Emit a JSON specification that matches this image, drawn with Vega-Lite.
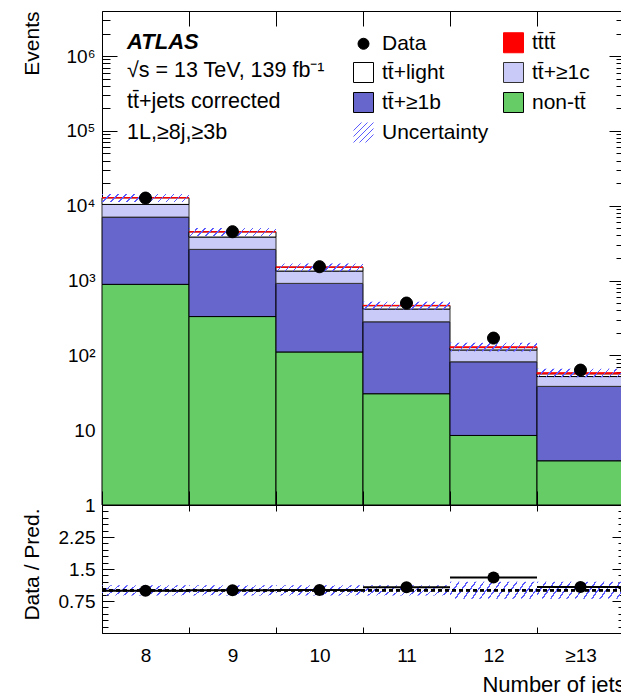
{
  "$schema": "https://vega.github.io/schema/vega-lite/v6.json",
  "autosize": {"type": "pad"},
  "padding": {"left": 20, "top": 10, "right": 0, "bottom": 0},
  "background": "white",
  "config": {
    "font": "Liberation Sans",
    "view": {"stroke": "black", "strokeWidth": 1},
    "axis": {"domain": false, "grid": false, "labelFont": "Liberation Sans", "labelFontSize": 19, "labelColor": "black", "tickColor": "black", "tickWidth": 1, "titleFont": "Liberation Sans", "titleFontSize": 21, "titleFontWeight": "normal", "titleColor": "black", "labelOverlap": false, "labelBound": false, "labelFlush": false}
  },
  "datasets": {
    "hist": [
      {"jets": "8", "proc": "non-tt\u0304", "rank": 1, "events": 889},
      {"jets": "8", "proc": "tt\u0304+≥1b", "rank": 2, "events": 6151},
      {"jets": "8", "proc": "tt\u0304+≥1c", "rank": 3, "events": 3360},
      {"jets": "8", "proc": "tt\u0304+light", "rank": 4, "events": 2355},
      {"jets": "8", "proc": "tt\u0304tt\u0304", "rank": 5, "events": 5},
      {"jets": "9", "proc": "non-tt\u0304", "rank": 1, "events": 330},
      {"jets": "9", "proc": "tt\u0304+≥1b", "rank": 2, "events": 2278},
      {"jets": "9", "proc": "tt\u0304+≥1c", "rank": 3, "events": 1202},
      {"jets": "9", "proc": "tt\u0304+light", "rank": 4, "events": 664},
      {"jets": "9", "proc": "tt\u0304tt\u0304", "rank": 5, "events": 6},
      {"jets": "10", "proc": "non-tt\u0304", "rank": 1, "events": 111},
      {"jets": "10", "proc": "tt\u0304+≥1b", "rank": 2, "events": 805},
      {"jets": "10", "proc": "tt\u0304+≥1c", "rank": 3, "events": 421},
      {"jets": "10", "proc": "tt\u0304+light", "rank": 4, "events": 170},
      {"jets": "10", "proc": "tt\u0304tt\u0304", "rank": 5, "events": 6},
      {"jets": "11", "proc": "non-tt\u0304", "rank": 1, "events": 30.7},
      {"jets": "11", "proc": "tt\u0304+≥1b", "rank": 2, "events": 250},
      {"jets": "11", "proc": "tt\u0304+≥1c", "rank": 3, "events": 135},
      {"jets": "11", "proc": "tt\u0304+light", "rank": 4, "events": 45},
      {"jets": "11", "proc": "tt\u0304tt\u0304", "rank": 5, "events": 5},
      {"jets": "12", "proc": "non-tt\u0304", "rank": 1, "events": 8.5},
      {"jets": "12", "proc": "tt\u0304+≥1b", "rank": 2, "events": 73.5},
      {"jets": "12", "proc": "tt\u0304+≥1c", "rank": 3, "events": 36},
      {"jets": "12", "proc": "tt\u0304+light", "rank": 4, "events": 9},
      {"jets": "12", "proc": "tt\u0304tt\u0304", "rank": 5, "events": 3},
      {"jets": "≥13", "proc": "non-tt\u0304", "rank": 1, "events": 3.9},
      {"jets": "≥13", "proc": "tt\u0304+≥1b", "rank": 2, "events": 34.6},
      {"jets": "≥13", "proc": "tt\u0304+≥1c", "rank": 3, "events": 13.6},
      {"jets": "≥13", "proc": "tt\u0304+light", "rank": 4, "events": 4.5},
      {"jets": "≥13", "proc": "tt\u0304tt\u0304", "rank": 5, "events": 2}
    ],
    "band": [
      {"jets": "8", "lo": 11230, "hi": 14290},
      {"jets": "9", "lo": 3940, "hi": 5020},
      {"jets": "10", "lo": 1330, "hi": 1695},
      {"jets": "11", "lo": 410, "hi": 522},
      {"jets": "12", "lo": 113, "hi": 147},
      {"jets": "≥13", "lo": 51, "hi": 66}
    ],
    "data": [
      {"jets": "8", "proc": "Data", "events": 12650},
      {"jets": "9", "proc": "Data", "events": 4490},
      {"jets": "10", "proc": "Data", "events": 1530},
      {"jets": "11", "proc": "Data", "events": 500},
      {"jets": "12", "proc": "Data", "events": 170},
      {"jets": "≥13", "proc": "Data", "events": 63.5}
    ],
    "rband": [
      {"jets": "8", "lo": 0.88, "hi": 1.12},
      {"jets": "9", "lo": 0.88, "hi": 1.12},
      {"jets": "10", "lo": 0.88, "hi": 1.12},
      {"jets": "11", "lo": 0.88, "hi": 1.12},
      {"jets": "12", "lo": 0.8, "hi": 1.2},
      {"jets": "≥13", "lo": 0.8, "hi": 1.2}
    ],
    "ratio": [
      {"jets": "8", "ratio": 0.99},
      {"jets": "9", "ratio": 1.0},
      {"jets": "10", "ratio": 1.01},
      {"jets": "11", "ratio": 1.07},
      {"jets": "12", "ratio": 1.3},
      {"jets": "≥13", "ratio": 1.08}
    ]
  },
  "spacing": 0,
  "bounds": "flush",
  "vconcat": [
    {
      "width": 522,
      "height": 494,
      "title": {
        "text": "ATLAS",
        "subtitle": ["√s = 13 TeV, 139 fb⁻¹", "tt\u0304+jets corrected", "1L,≥8j,≥3b"],
        "anchor": "start", "frame": "group", "orient": "top", "offset": 0,
        "font": "Liberation Sans", "fontSize": 22, "fontWeight": "bold", "fontStyle": "italic", "color": "black",
        "subtitleFont": "Liberation Sans", "subtitleFontSize": 21.5, "subtitleColor": "black", "subtitleLineHeight": 31, "subtitlePadding": 6,
        "dx": 25, "dy": 134
      },
      "resolve": {"axis": {"x": "independent", "y": "independent"}},
      "layer": [
        {
          "data": {"name": "hist"},
          "transform": [{"stack": "events", "groupby": ["jets"], "sort": [{"field": "rank", "order": "ascending"}], "as": ["y0", "y1"]}],
          "mark": {"type": "rect", "strokeWidth": 1, "opacity": 1},
          "encoding": {
            "x": {"field": "jets", "type": "nominal", "scale": {"type": "band", "domain": ["8", "9", "10", "11", "12", "≥13"], "paddingInner": 0, "paddingOuter": 0},
              "axis": {"orient": "bottom", "labels": false, "tickBand": "extent", "tickSize": -14, "title": null}},
            "y": {"field": "y1", "type": "quantitative", "scale": {"type": "log", "domain": [1, 4000000], "nice": false, "clamp": true},
              "axis": {"orient": "left",
                "values": [1,2,3,4,5,6,7,8,9,10,20,30,40,50,60,70,80,90,100,200,300,400,500,600,700,800,900,1000,2000,3000,4000,5000,6000,7000,8000,9000,10000,20000,30000,40000,50000,60000,70000,80000,90000,100000,200000,300000,400000,500000,600000,700000,800000,900000,1000000,2000000,3000000],
                "labelExpr": "datum.value == 1 ? '1' : datum.value == 10 ? '10' : datum.value == 100 ? '10²' : datum.value == 1000 ? '10³' : datum.value == 10000 ? '10⁴' : datum.value == 100000 ? '10⁵' : datum.value == 1000000 ? '10⁶' : ''",
                "tickSize": {"condition": {"test": "indexof([1,10,100,1000,10000,100000,1000000], datum.value) >= 0", "value": -15}, "value": -8},
                "labelPadding": 22,
                "title": "Events", "titleAngle": 270, "titleAlign": "right", "titleBaseline": "middle", "titleX": -70, "titleY": 0}},
            "y2": {"field": "y0"},
            "fill": {"field": "proc", "type": "nominal",
              "scale": {"domain": ["Data", "tt\u0304tt\u0304", "tt\u0304+light", "tt\u0304+≥1c", "tt\u0304+≥1b", "non-tt\u0304", "Uncertainty"], "range": ["black", "#ff0000", "white", "#cacaf8", "#6666cc", "#66cc66", "rgba(0,0,0,0)"]},
              "legend": {"title": null, "orient": "none", "legendX": 251, "legendY": 21, "columns": 2, "direction": "horizontal", "symbolSize": 400, "symbolStrokeWidth": 1, "labelFont": "Liberation Sans", "labelFontSize": 21, "labelColor": "black", "rowPadding": 5, "columnPadding": 12, "labelOffset": 8, "symbolFillColor": "black", "symbolOpacity": 1}},
            "stroke": {"field": "proc", "type": "nominal",
              "scale": {"domain": ["Data", "tt\u0304tt\u0304", "tt\u0304+light", "tt\u0304+≥1c", "tt\u0304+≥1b", "non-tt\u0304", "Uncertainty"], "range": ["black", "#ff0000", "black", "#333333", "black", "black", "#5b5bff"]},
              "legend": {"title": null, "orient": "none", "legendX": 251, "legendY": 21, "columns": 2, "direction": "horizontal", "symbolSize": 400, "symbolStrokeWidth": 1, "labelFont": "Liberation Sans", "labelFontSize": 21, "labelColor": "black", "rowPadding": 5, "columnPadding": 12, "labelOffset": 8, "symbolFillColor": "black", "symbolOpacity": 1}}
          }
        },
        {
          "data": {"name": "band"},
          "mark": {"type": "rect", "strokeWidth": 0, "fill": {"gradient": "linear", "x1": 0, "y1": 0, "x2": 1.081, "y2": 0.0973, "stops": [
            {"offset": 0, "color": "#5b5bff"}, {"offset": 0.0167, "color": "#5b5bff"}, {"offset": 0.0167, "color": "rgba(91,91,255,0)"}, {"offset": 0.0833, "color": "rgba(91,91,255,0)"},
            {"offset": 0.0833, "color": "#5b5bff"}, {"offset": 0.1, "color": "#5b5bff"}, {"offset": 0.1, "color": "rgba(91,91,255,0)"}, {"offset": 0.1667, "color": "rgba(91,91,255,0)"},
            {"offset": 0.1667, "color": "#5b5bff"}, {"offset": 0.1833, "color": "#5b5bff"}, {"offset": 0.1833, "color": "rgba(91,91,255,0)"}, {"offset": 0.25, "color": "rgba(91,91,255,0)"},
            {"offset": 0.25, "color": "#5b5bff"}, {"offset": 0.2667, "color": "#5b5bff"}, {"offset": 0.2667, "color": "rgba(91,91,255,0)"}, {"offset": 0.3333, "color": "rgba(91,91,255,0)"},
            {"offset": 0.3333, "color": "#5b5bff"}, {"offset": 0.35, "color": "#5b5bff"}, {"offset": 0.35, "color": "rgba(91,91,255,0)"}, {"offset": 0.4167, "color": "rgba(91,91,255,0)"},
            {"offset": 0.4167, "color": "#5b5bff"}, {"offset": 0.4333, "color": "#5b5bff"}, {"offset": 0.4333, "color": "rgba(91,91,255,0)"}, {"offset": 0.5, "color": "rgba(91,91,255,0)"},
            {"offset": 0.5, "color": "#5b5bff"}, {"offset": 0.5167, "color": "#5b5bff"}, {"offset": 0.5167, "color": "rgba(91,91,255,0)"}, {"offset": 0.5833, "color": "rgba(91,91,255,0)"},
            {"offset": 0.5833, "color": "#5b5bff"}, {"offset": 0.6, "color": "#5b5bff"}, {"offset": 0.6, "color": "rgba(91,91,255,0)"}, {"offset": 0.6667, "color": "rgba(91,91,255,0)"},
            {"offset": 0.6667, "color": "#5b5bff"}, {"offset": 0.6833, "color": "#5b5bff"}, {"offset": 0.6833, "color": "rgba(91,91,255,0)"}, {"offset": 0.75, "color": "rgba(91,91,255,0)"},
            {"offset": 0.75, "color": "#5b5bff"}, {"offset": 0.7667, "color": "#5b5bff"}, {"offset": 0.7667, "color": "rgba(91,91,255,0)"}, {"offset": 0.8333, "color": "rgba(91,91,255,0)"},
            {"offset": 0.8333, "color": "#5b5bff"}, {"offset": 0.85, "color": "#5b5bff"}, {"offset": 0.85, "color": "rgba(91,91,255,0)"}, {"offset": 0.9167, "color": "rgba(91,91,255,0)"},
            {"offset": 0.9167, "color": "#5b5bff"}, {"offset": 0.9333, "color": "#5b5bff"}, {"offset": 0.9333, "color": "rgba(91,91,255,0)"}, {"offset": 1, "color": "rgba(91,91,255,0)"}
          ]}},
          "encoding": {
            "x": {"field": "jets", "type": "nominal", "axis": {"orient": "top", "labels": false, "tickBand": "extent", "tickSize": -15, "title": null}},
            "y": {"field": "lo", "type": "quantitative",
              "axis": {"orient": "right", "labels": false, "title": null,
                "values": [1,2,3,4,5,6,7,8,9,10,20,30,40,50,60,70,80,90,100,200,300,400,500,600,700,800,900,1000,2000,3000,4000,5000,6000,7000,8000,9000,10000,20000,30000,40000,50000,60000,70000,80000,90000,100000,200000,300000,400000,500000,600000,700000,800000,900000,1000000,2000000,3000000],
                "tickSize": {"condition": {"test": "indexof([1,10,100,1000,10000,100000,1000000], datum.value) >= 0", "value": -15}, "value": -8}}},
            "y2": {"field": "hi"}
          }
        },
        {
          "data": {"name": "data"},
          "mark": {"type": "point", "filled": true, "size": 476, "opacity": 1, "strokeWidth": 1},
          "encoding": {
            "x": {"field": "jets", "type": "nominal", "axis": null},
            "y": {"field": "events", "type": "quantitative", "axis": null},
            "shape": {"field": "proc", "type": "nominal",
              "scale": {"domain": ["Data", "tt\u0304tt\u0304", "tt\u0304+light", "tt\u0304+≥1c", "tt\u0304+≥1b", "non-tt\u0304", "Uncertainty"], "range": ["M-0.55,0A0.55,0.55,0,1,1,0.55,0A0.55,0.55,0,1,1,-0.55,0Z", "square", "square", "square", "square", "square", "M-1,-0.2L-0.2,-1M-1,0.4L0.4,-1M-1,1L1,-1M-0.4,1L1,-0.4M0.2,1L1,0.2"]},
              "legend": {"title": null, "orient": "none", "legendX": 251, "legendY": 21, "columns": 2, "direction": "horizontal", "symbolSize": 400, "symbolStrokeWidth": 1, "labelFont": "Liberation Sans", "labelFontSize": 21, "labelColor": "black", "rowPadding": 5, "columnPadding": 12, "labelOffset": 8, "symbolFillColor": "black", "symbolOpacity": 1}},
            "fill": {"field": "proc", "type": "nominal",
              "scale": {"domain": ["Data", "tt\u0304tt\u0304", "tt\u0304+light", "tt\u0304+≥1c", "tt\u0304+≥1b", "non-tt\u0304", "Uncertainty"]},
              "legend": {"title": null, "orient": "none", "legendX": 251, "legendY": 21, "columns": 2, "direction": "horizontal", "symbolSize": 400, "symbolStrokeWidth": 1, "labelFont": "Liberation Sans", "labelFontSize": 21, "labelColor": "black", "rowPadding": 5, "columnPadding": 12, "labelOffset": 8, "symbolFillColor": "black", "symbolOpacity": 1}},
            "stroke": {"field": "proc", "type": "nominal",
              "scale": {"domain": ["Data", "tt\u0304tt\u0304", "tt\u0304+light", "tt\u0304+≥1c", "tt\u0304+≥1b", "non-tt\u0304", "Uncertainty"]},
              "legend": {"title": null, "orient": "none", "legendX": 251, "legendY": 21, "columns": 2, "direction": "horizontal", "symbolSize": 400, "symbolStrokeWidth": 1, "labelFont": "Liberation Sans", "labelFontSize": 21, "labelColor": "black", "rowPadding": 5, "columnPadding": 12, "labelOffset": 8, "symbolFillColor": "black", "symbolOpacity": 1}}
          }
        }
      ]
    },
    {
      "width": 522,
      "height": 128,
      "resolve": {"axis": {"x": "independent", "y": "independent"}},
      "layer": [
        {
          "data": {"name": "rband"},
          "mark": {"type": "rect", "strokeWidth": 0, "fill": {"gradient": "linear", "x1": 0, "y1": 0, "x2": 1.118, "y2": 0.1566, "stops": [
            {"offset": 0, "color": "#5b5bff"}, {"offset": 0.0167, "color": "#5b5bff"}, {"offset": 0.0167, "color": "rgba(91,91,255,0)"}, {"offset": 0.0833, "color": "rgba(91,91,255,0)"},
            {"offset": 0.0833, "color": "#5b5bff"}, {"offset": 0.1, "color": "#5b5bff"}, {"offset": 0.1, "color": "rgba(91,91,255,0)"}, {"offset": 0.1667, "color": "rgba(91,91,255,0)"},
            {"offset": 0.1667, "color": "#5b5bff"}, {"offset": 0.1833, "color": "#5b5bff"}, {"offset": 0.1833, "color": "rgba(91,91,255,0)"}, {"offset": 0.25, "color": "rgba(91,91,255,0)"},
            {"offset": 0.25, "color": "#5b5bff"}, {"offset": 0.2667, "color": "#5b5bff"}, {"offset": 0.2667, "color": "rgba(91,91,255,0)"}, {"offset": 0.3333, "color": "rgba(91,91,255,0)"},
            {"offset": 0.3333, "color": "#5b5bff"}, {"offset": 0.35, "color": "#5b5bff"}, {"offset": 0.35, "color": "rgba(91,91,255,0)"}, {"offset": 0.4167, "color": "rgba(91,91,255,0)"},
            {"offset": 0.4167, "color": "#5b5bff"}, {"offset": 0.4333, "color": "#5b5bff"}, {"offset": 0.4333, "color": "rgba(91,91,255,0)"}, {"offset": 0.5, "color": "rgba(91,91,255,0)"},
            {"offset": 0.5, "color": "#5b5bff"}, {"offset": 0.5167, "color": "#5b5bff"}, {"offset": 0.5167, "color": "rgba(91,91,255,0)"}, {"offset": 0.5833, "color": "rgba(91,91,255,0)"},
            {"offset": 0.5833, "color": "#5b5bff"}, {"offset": 0.6, "color": "#5b5bff"}, {"offset": 0.6, "color": "rgba(91,91,255,0)"}, {"offset": 0.6667, "color": "rgba(91,91,255,0)"},
            {"offset": 0.6667, "color": "#5b5bff"}, {"offset": 0.6833, "color": "#5b5bff"}, {"offset": 0.6833, "color": "rgba(91,91,255,0)"}, {"offset": 0.75, "color": "rgba(91,91,255,0)"},
            {"offset": 0.75, "color": "#5b5bff"}, {"offset": 0.7667, "color": "#5b5bff"}, {"offset": 0.7667, "color": "rgba(91,91,255,0)"}, {"offset": 0.8333, "color": "rgba(91,91,255,0)"},
            {"offset": 0.8333, "color": "#5b5bff"}, {"offset": 0.85, "color": "#5b5bff"}, {"offset": 0.85, "color": "rgba(91,91,255,0)"}, {"offset": 0.9167, "color": "rgba(91,91,255,0)"},
            {"offset": 0.9167, "color": "#5b5bff"}, {"offset": 0.9333, "color": "#5b5bff"}, {"offset": 0.9333, "color": "rgba(91,91,255,0)"}, {"offset": 1, "color": "rgba(91,91,255,0)"}
          ]}},
          "encoding": {
            "x": {"field": "jets", "type": "nominal", "scale": {"type": "band", "domain": ["8", "9", "10", "11", "12", "≥13"], "paddingInner": 0, "paddingOuter": 0},
              "axis": {"orient": "bottom", "tickBand": "extent", "tickSize": -6, "labelAngle": 0, "labelPadding": 19, "labelFontSize": 19,
                "title": "Number of jets", "titleFontSize": 22, "titleAlign": "right", "titleBaseline": "middle", "titleX": 523, "titleY": 51}},
            "y": {"field": "lo", "type": "quantitative", "scale": {"domain": [0, 3], "nice": false, "zero": false},
              "axis": {"orient": "left",
                "values": [0,0.15,0.3,0.45,0.6,0.75,0.9,1.05,1.2,1.35,1.5,1.65,1.8,1.95,2.1,2.25,2.4,2.55,2.7,2.85,3],
                "labelExpr": "datum.value == 0.75 ? '0.75' : datum.value == 1.5 ? '1.5' : datum.value == 2.25 ? '2.25' : ''",
                "tickSize": {"condition": {"test": "indexof([0,0.75,1.5,2.25,3], datum.value) >= 0", "value": -12}, "value": -6},
                "labelPadding": 19,
                "title": "Data / Pred.", "titleAngle": 270, "titleAlign": "right", "titleBaseline": "middle", "titleX": -70, "titleY": 3}},
            "y2": {"field": "hi"}
          }
        },
        {
          "data": {"name": "ratio"},
          "mark": {"type": "rule", "strokeDash": [4, 3], "strokeWidth": 2, "color": "black"},
          "encoding": {
            "y": {"datum": 1, "type": "quantitative",
              "axis": {"orient": "right", "labels": false, "title": null,
                "values": [0,0.15,0.3,0.45,0.6,0.75,0.9,1.05,1.2,1.35,1.5,1.65,1.8,1.95,2.1,2.25,2.4,2.55,2.7,2.85,3],
                "tickSize": {"condition": {"test": "indexof([0,0.75,1.5,2.25,3], datum.value) >= 0", "value": -12}, "value": -6}}}
          }
        },
        {
          "data": {"name": "ratio"},
          "mark": {"type": "rect", "fill": "transparent", "stroke": "black", "strokeWidth": 2},
          "encoding": {
            "x": {"field": "jets", "type": "nominal", "axis": {"orient": "top", "labels": false, "tickBand": "extent", "tickSize": -6, "title": null}},
            "y": {"field": "ratio", "type": "quantitative", "axis": null},
            "y2": {"field": "ratio"}
          }
        },
        {
          "data": {"name": "ratio"},
          "mark": {"type": "point", "shape": "circle", "filled": true, "color": "black", "size": 145, "opacity": 1},
          "encoding": {
            "x": {"field": "jets", "type": "nominal", "axis": null},
            "y": {"field": "ratio", "type": "quantitative", "axis": null}
          }
        }
      ]
    }
  ]
}
